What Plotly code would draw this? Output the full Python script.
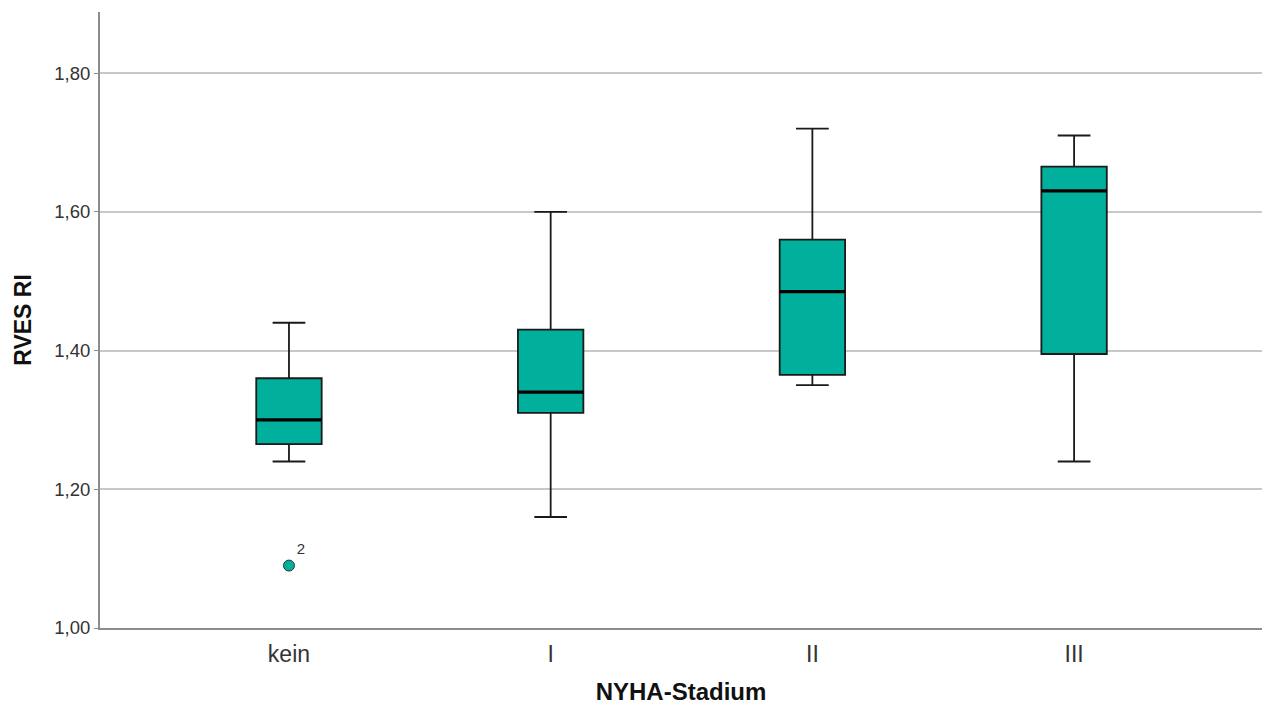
import plotly.graph_objects as go

# NYHA stages and RVES RI summary statistics per stage
stages = ["kein", "I", "II", "III"]
lower_whisker = [1.24, 1.16, 1.35, 1.24]
q1 = [1.265, 1.31, 1.365, 1.395]
median = [1.30, 1.34, 1.485, 1.63]
q3 = [1.36, 1.43, 1.56, 1.665]
upper_whisker = [1.44, 1.60, 1.72, 1.71]

# outliers: (stage index, value, case label)
outlier_stage = [0]
outlier_value = [1.09]
outlier_label = ["2"]

y_ticks = [1.0, 1.2, 1.4, 1.6, 1.8]

FILL = "#00B09C"
EDGE = "#1a1a1a"
BOX_W = 0.25
FONT = "Liberation Sans, Arial, sans-serif"

fig = go.Figure()

for i, name in enumerate(stages):
    fig.add_trace(go.Box(
        x=[i], q1=[q1[i]], median=[median[i]], q3=[q3[i]],
        lowerfence=[lower_whisker[i]], upperfence=[upper_whisker[i]],
        width=BOX_W, whiskerwidth=0.5,
        fillcolor=FILL, line=dict(color=EDGE, width=1.8),
        boxpoints=False, hoverinfo="skip", showlegend=False, name=name,
    ))

# thicker median bars drawn over each box
for i in range(len(stages)):
    fig.add_trace(go.Scatter(
        x=[i - BOX_W / 2, i + BOX_W / 2], y=[median[i], median[i]],
        mode="lines", line=dict(color="#000000", width=3.2),
        hoverinfo="skip", showlegend=False,
    ))

# outlier points with case numbers
fig.add_trace(go.Scatter(
    x=outlier_stage, y=outlier_value, mode="markers+text",
    marker=dict(color=FILL, size=11, line=dict(color="#333333", width=1)),
    text=outlier_label, textposition="top right",
    textfont=dict(family=FONT, size=15, color="#333333"),
    hoverinfo="skip", showlegend=False,
))

fig.update_layout(
    width=1262, height=709,
    margin=dict(l=100, r=0, t=12, b=81),
    plot_bgcolor="white", paper_bgcolor="white",
    separators=",.",
    font=dict(family=FONT, color="#333333"),
)

fig.update_xaxes(
    range=[-0.722, 3.718],
    tickmode="array", tickvals=list(range(len(stages))), ticktext=stages,
    tickfont=dict(size=23, color="#333333"),
    showgrid=False, zeroline=False,
    showline=True, linecolor="#8c8c8c", linewidth=2,
    ticks="", ticklen=0, ticklabelstandoff=4,
    title=dict(text="<b>NYHA-Stadium</b>", font=dict(size=24, color="#111111"), standoff=18),
)

fig.update_yaxes(
    range=[1.0, 1.888],
    tickmode="array", tickvals=y_ticks, tickformat=".2f",
    tickfont=dict(size=18.5, color="#333333"),
    showgrid=True, gridcolor="#c8c8c8", gridwidth=1.5,
    zeroline=False,
    showline=True, linecolor="#8c8c8c", linewidth=2,
    ticks="outside", ticklen=4, tickcolor="#8c8c8c",
    title=dict(text="<b>RVES RI</b>", font=dict(size=23, color="#111111"), standoff=16),
)

fig.write_html("out.html")
